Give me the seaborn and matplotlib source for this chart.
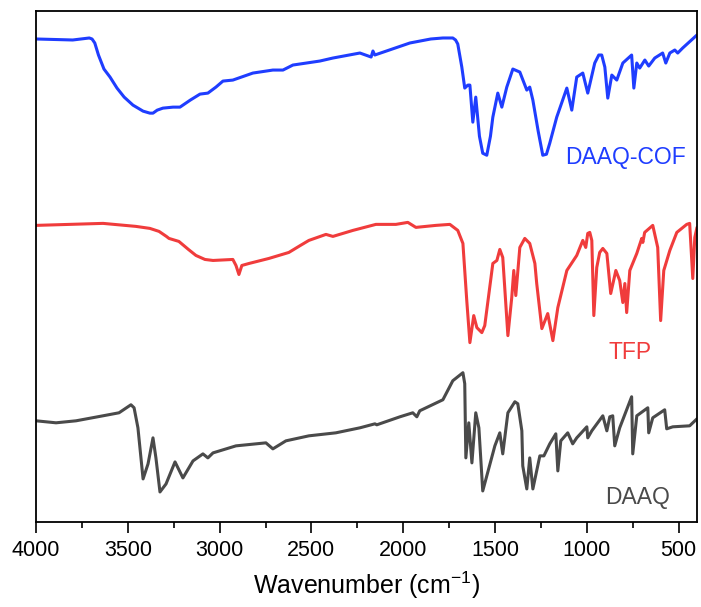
import matplotlib
matplotlib.use('Agg')
import matplotlib.pyplot as plt
from matplotlib.ticker import MultipleLocator
import seaborn as sns
import pandas as pd

sns.set_style('ticks')
plt.rcParams['font.family'] = ['Liberation Sans', 'DejaVu Sans']
plt.rcParams['mathtext.fontset'] = 'custom'
plt.rcParams['mathtext.rm'] = 'Liberation Sans'
plt.rcParams['mathtext.it'] = 'Liberation Sans'
plt.rcParams['text.color'] = 'black'
plt.rcParams['axes.labelcolor'] = 'black'
plt.rcParams['xtick.color'] = 'black'

# DAAQ-COF (blue, top)
cof_wn = [4000, 3800, 3710, 3695, 3680, 3660, 3630, 3597, 3559, 3520, 3472, 3417, 3380,
          3363, 3340, 3309, 3254, 3216, 3160, 3107, 3064, 3020, 2982, 2928, 2819, 2710,
          2655, 2601, 2454, 2383, 2236, 2175, 2165, 2155, 1964, 1850, 1784, 1730, 1715,
          1703, 1681, 1665, 1648, 1637, 1621, 1605, 1585, 1567, 1545, 1525, 1512, 1485,
          1463, 1436, 1403, 1365, 1327, 1311, 1294, 1265, 1240, 1220, 1202, 1164, 1109,
          1082, 1055, 1022, 995, 957, 935, 919, 902, 886, 864, 837, 804, 756, 744, 728,
          712, 684, 663, 630, 587, 570, 548, 521, 505, 478, 400]
cof_t = [482, 481, 483, 482, 478, 466, 452, 444, 433, 424, 416, 410, 408,
         408, 411, 413, 414, 414, 421, 427, 428, 434, 440, 441, 448, 451,
         451, 456, 460, 463, 468, 464, 470, 466, 478, 482, 483, 483, 481,
         477, 454, 433, 436, 436, 399, 424, 385, 368, 366, 385, 404, 428,
         414, 434, 452, 449, 431, 434, 421, 390, 366, 367, 378, 404, 433,
         411, 444, 448, 428, 458, 466, 466, 454, 423, 446, 441, 458, 466, 433, 458,
         453, 461, 455, 463, 468, 458, 468, 471, 468, 473, 486]

# TFP (red, middle)
tfp_wn = [4000, 3635, 3456, 3380, 3330, 3290, 3276, 3222, 3170, 3129, 3080, 3036, 2928,
          2911, 2895, 2879, 2840, 2732, 2623, 2560, 2514, 2421, 2383, 2274, 2149, 2040,
          1975, 1931, 1822, 1746, 1703, 1675, 1654, 1637, 1616, 1599, 1572, 1556, 1512,
          1490, 1474, 1458, 1430, 1409, 1398, 1387, 1365, 1338, 1311, 1283, 1273, 1245,
          1213, 1185, 1158, 1109, 1055, 1022, 1006, 995, 984, 973, 962, 946, 930, 913,
          891, 870, 842, 821, 804, 793, 783, 766, 728, 701, 695, 685, 641, 614, 598,
          581, 548, 510, 456, 440, 423, 412, 400]
tfp_t = [296, 298, 295, 293, 290, 285, 283, 280, 272, 266, 262, 261, 262,
         256, 247, 256, 258, 263, 269, 276, 281, 287, 285, 291, 297, 297,
         299, 294, 296, 297, 291, 278, 221, 179, 206, 194, 189, 196, 258,
         261, 272, 264, 186, 224, 251, 226, 274, 283, 278, 258, 238, 193,
         208, 181, 214, 251, 266, 281, 274, 288, 289, 281, 206, 254, 269, 273,
         268, 228, 251, 241, 219, 238, 209, 251, 268, 283, 279, 289, 296, 274, 201,
         251, 271, 289, 297, 298, 243, 284, 294]

# DAAQ (grey, bottom)
daaq_wn = [4000, 3891, 3782, 3635, 3548, 3483, 3466, 3445, 3417, 3390, 3363, 3347, 3325,
           3292, 3243, 3200, 3145, 3091, 3064, 3036, 2911, 2748, 2710, 2639, 2514, 2367,
           2236, 2154, 2144, 2018, 1948, 1926, 1910, 1784, 1730, 1675, 1665, 1659, 1643,
           1626, 1605, 1588, 1567, 1501, 1474, 1458, 1430, 1392, 1376, 1354, 1349, 1327,
           1311, 1294, 1256, 1234, 1202, 1169, 1158, 1142, 1104, 1077, 1055, 1000, 995,
           973, 913, 891, 875, 859, 848, 821, 756, 750, 728, 668, 663, 641, 576, 565,
           532, 440, 400]
daaq_t = [101, 99, 101, 106, 109, 117, 114, 94, 43, 58, 84, 64, 30,
          38, 60, 44, 61, 68, 64, 69, 76, 79, 73, 81, 86, 89,
          94, 98, 97, 105, 109, 105, 111, 122, 141, 149, 138, 64, 99,
          59, 109, 94, 31, 76, 89, 68, 109, 120, 118, 91, 56, 33,
          64, 33, 66, 66, 78, 88, 51, 81, 89, 78, 84, 95, 84,
          91, 106, 91, 105, 106, 76, 94, 125, 68, 106, 114, 89, 104, 112, 93,
          95, 96, 103]

names = ['DAAQ-COF', 'TFP', 'DAAQ']
colors = ['#1f3dff', '#f03c3c', '#4a4a4a']
label_pos = [(1120, 364), (880, 169), (902, 24)]

fig = plt.figure(figsize=(7.01, 6.07), dpi=100)
ax = fig.add_axes([0.0514, 0.140, 0.9429, 0.842])

for name, wn, t, c in zip(names, [cof_wn, tfp_wn, daaq_wn], [cof_t, tfp_t, daaq_t], colors):
    df = pd.DataFrame({'wn': wn, 't': t})
    sns.lineplot(data=df, x='wn', y='t', color=c, lw=2.2, ax=ax, sort=False)

for name, (x, y), c in zip(names, label_pos, colors):
    ax.text(x, y, name, color=c, fontsize=16.5, ha='left', va='center')

ax.set_xlim(4000, 400)
ax.set_ylim(0, 510)
ax.set_yticks([])
ax.set_ylabel('')
ax.set_xlabel('Wavenumber (cm$^{-1}$)', fontsize=18, labelpad=6)
ax.xaxis.set_major_locator(MultipleLocator(500))
ax.xaxis.set_minor_locator(MultipleLocator(250))
ax.tick_params(axis='x', which='major', direction='out', length=8, width=1.2,
               labelsize=15.5, pad=5, colors='black')
ax.tick_params(axis='x', which='minor', direction='out', length=4, width=1.2, colors='black')
for s in ax.spines.values():
    s.set_visible(True)
    s.set_linewidth(1.3)
    s.set_color('black')

fig.savefig('out.png', dpi=100)
